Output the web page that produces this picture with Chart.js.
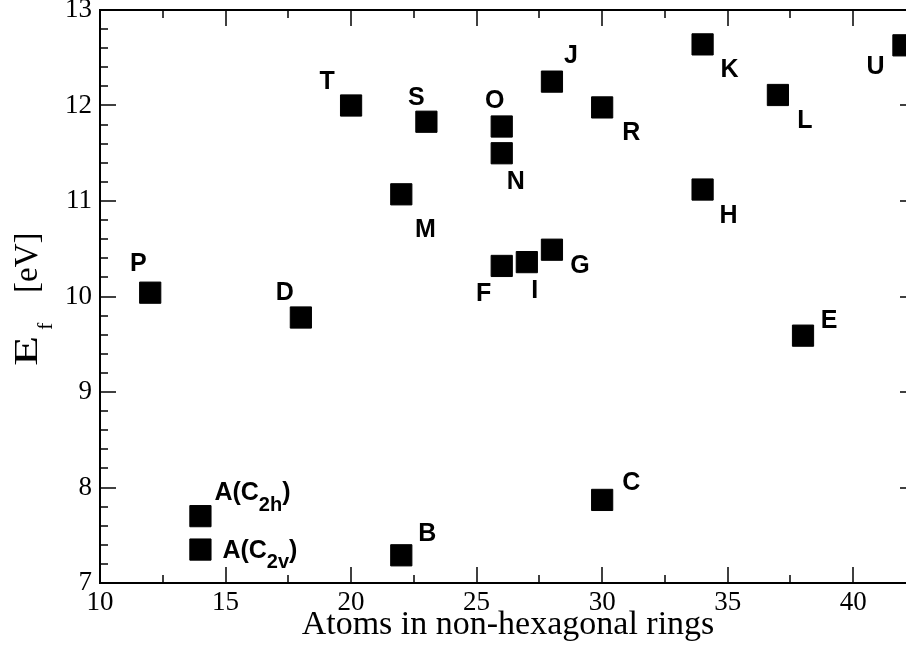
<!DOCTYPE html>
<html>
<head>
<meta charset="utf-8">
<script src="https://cdn.jsdelivr.net/npm/chart.js@4.4.1/dist/chart.umd.min.js"></script>
<style>
  html, body { margin: 0; padding: 0; background: #fff; overflow: hidden; width: 906px; height: 653px; }
  #wrap { position: absolute; left: 0; top: 0; width: 940px; height: 653px; }
</style>
</head>
<body>
<div id="wrap"><canvas id="c" width="940" height="653"></canvas></div>
<script>
// Defect structures: name, number of atoms in non-hexagonal rings, formation energy (eV)
const structures = ['P', 'D', 'A(C_2h)', 'A(C_2v)', 'T', 'M', 'B', 'S', 'O', 'N', 'F', 'I', 'J', 'G', 'R', 'C', 'K', 'H', 'L', 'E', 'U'];
const atomCounts = [12, 18, 14, 14, 20, 22, 22, 23, 26, 26, 26, 27, 28, 28, 30, 30, 34, 34, 37, 38, 42];
const formationEnergies = [10.04, 9.78, 7.70, 7.35, 12.00, 11.07, 7.29, 11.83, 11.78, 11.50, 10.32, 10.36, 12.25, 10.49, 11.98, 7.87, 12.64, 11.12, 12.11, 9.59, 12.63];
const xTickValues = [10, 15, 20, 25, 30, 35, 40];
const yTickValues = [7, 8, 9, 10, 11, 12, 13];

// Label placement relative to each marker (px): [dx, dy, anchor]
// 'c' = centred on (dx, dy); 'l' = left-aligned, dy is the baseline
const labelOffsets = [
  [-12, -31, 'c'], [-16, -26, 'c'], [14, -16, 'l'], [22, 8, 'l'], [-24, -25, 'c'],
  [24, 34, 'c'], [26, -23, 'c'], [-10, -26, 'c'], [-7, -27, 'c'], [14, 27, 'c'],
  [-18, 26, 'c'], [8, 27, 'c'], [19, -28, 'c'], [28, 14, 'c'], [29, 24, 'c'],
  [29, -19, 'c'], [27, 24, 'c'], [26, 25, 'c'], [27, 24, 'c'], [26, -17, 'c'],
  [-28, 20, 'c']
];

const SERIF = '"Liberation Serif", "Times New Roman", serif';
const SANS = '"Liberation Sans", Arial, Helvetica, sans-serif';
const LABEL_SIZE = 25;

// Draws text such as "A(C_2h)" with the part after "_" (up to ")") as a subscript
function drawRich(ctx, text, x, y, size, align) {
  const m = text.match(/^(.*?)_([^)]*)(.*)$/);
  const parts = m ? [[m[1], 0, size], [m[2], size * 0.42, size * 0.8], [m[3], 0, size]] : [[text, 0, size]];
  let total = 0;
  parts.forEach(p => { ctx.font = `bold ${p[2]}px ${SANS}`; p.push(ctx.measureText(p[0]).width); total += p[3]; });
  let cx = align === 'c' ? x - total / 2 : x;
  ctx.textAlign = 'left';
  parts.forEach(p => {
    ctx.font = `bold ${p[2]}px ${SANS}`;
    ctx.fillText(p[0], cx, y + p[1]);
    cx += p[3];
  });
}

const framePlugin = {
  id: 'frameAndLabels',
  afterDatasetsDraw(chart) {
    const { ctx, chartArea: a, scales: { x, y } } = chart;
    ctx.save();
    ctx.strokeStyle = '#000';
    ctx.lineCap = 'butt';

    // inward tick marks on all four sides
    const seg = (x1, y1, x2, y2, w) => {
      ctx.lineWidth = w; ctx.beginPath(); ctx.moveTo(x1, y1); ctx.lineTo(x2, y2); ctx.stroke();
    };
    for (let k = 0; k <= 13; k++) {
      const v = 10 + 2.5 * k;
      if (v > x.max) break;
      const px = Math.round(x.getPixelForValue(v));
      const len = k % 2 === 0 ? 16 : 8;
      seg(px, a.bottom, px, a.bottom - len, 1.5);
      seg(px, a.top, px, a.top + len, 1.5);
    }
    for (let k = 0; k <= 30; k++) {
      const v = 7 + 0.2 * k;
      const py = Math.round(y.getPixelForValue(v));
      const len = k % 5 === 0 ? 16 : 8;
      seg(a.left, py, a.left + len, py, 1.5);
      seg(a.right, py, a.right - len, py, 1.5);
    }
    ctx.lineWidth = 2;
    ctx.strokeRect(a.left, a.top, a.right - a.left, a.bottom - a.top);

    // point labels
    ctx.fillStyle = '#000';
    const meta = chart.getDatasetMeta(0);
    meta.data.forEach((pt, i) => {
      const [dx, dy, anchor] = labelOffsets[i];
      ctx.textBaseline = 'alphabetic';
      const baseY = anchor === 'c' ? pt.y + dy + LABEL_SIZE * 0.358 : pt.y + dy;
      drawRich(ctx, structures[i], pt.x + dx, baseY, LABEL_SIZE, anchor);
    });

    // axis titles
    ctx.textBaseline = 'alphabetic';
    ctx.textAlign = 'center';
    ctx.font = `34px ${SERIF}`;
    ctx.fillText('Atoms in non-hexagonal rings', (a.left + a.right) / 2, 634);

    ctx.translate(37, 366);
    ctx.rotate(-Math.PI / 2);
    ctx.textAlign = 'left';
    ctx.font = `33px ${SERIF}`;
    ctx.save();
    ctx.scale(1.5, 1);
    ctx.fillText('E', 0, 0);
    ctx.restore();
    ctx.font = `22px ${SERIF}`;
    ctx.fillText('f', 36, 15);
    ctx.font = `33px ${SERIF}`;
    ctx.fillText('[eV]', 73, 0);
    ctx.restore();
  }
};

new Chart(document.getElementById('c'), {
  type: 'scatter',
  data: {
    datasets: [{
      data: atomCounts.map((v, i) => ({ x: v, y: formationEnergies[i] })),
      pointStyle: 'rect',
      pointRadius: 15,
      pointHoverRadius: 15,
      backgroundColor: '#000',
      borderColor: '#000',
      borderWidth: 1
    }]
  },
  options: {
    responsive: false,
    animation: false,
    events: [],
    layout: { padding: { top: 10, right: 24, bottom: 0, left: 0 }, autoPadding: false },
    plugins: { legend: { display: false }, tooltip: { enabled: false } },
    scales: {
      x: {
        type: 'linear', min: 10, max: 42.5,
        grid: { display: false, drawTicks: false },
        border: { display: false },
        ticks: { font: { family: SERIF, size: 27 }, color: '#000', padding: 4, maxRotation: 0, autoSkip: false },
        afterBuildTicks: s => { s.ticks = xTickValues.map(v => ({ value: v })); },
        afterFit: s => { s.height = 70; s.paddingLeft = 0; s.paddingRight = 0; }
      },
      y: {
        type: 'linear', min: 7, max: 13,
        grid: { display: false, drawTicks: false },
        border: { display: false },
        ticks: { font: { family: SERIF, size: 27 }, color: '#000', padding: 8, autoSkip: false },
        afterBuildTicks: s => { s.ticks = yTickValues.map(v => ({ value: v })); },
        afterFit: s => { s.width = 100; s.paddingTop = 0; s.paddingBottom = 0; }
      }
    }
  },
  plugins: [framePlugin]
});
</script>
</body>
</html>
